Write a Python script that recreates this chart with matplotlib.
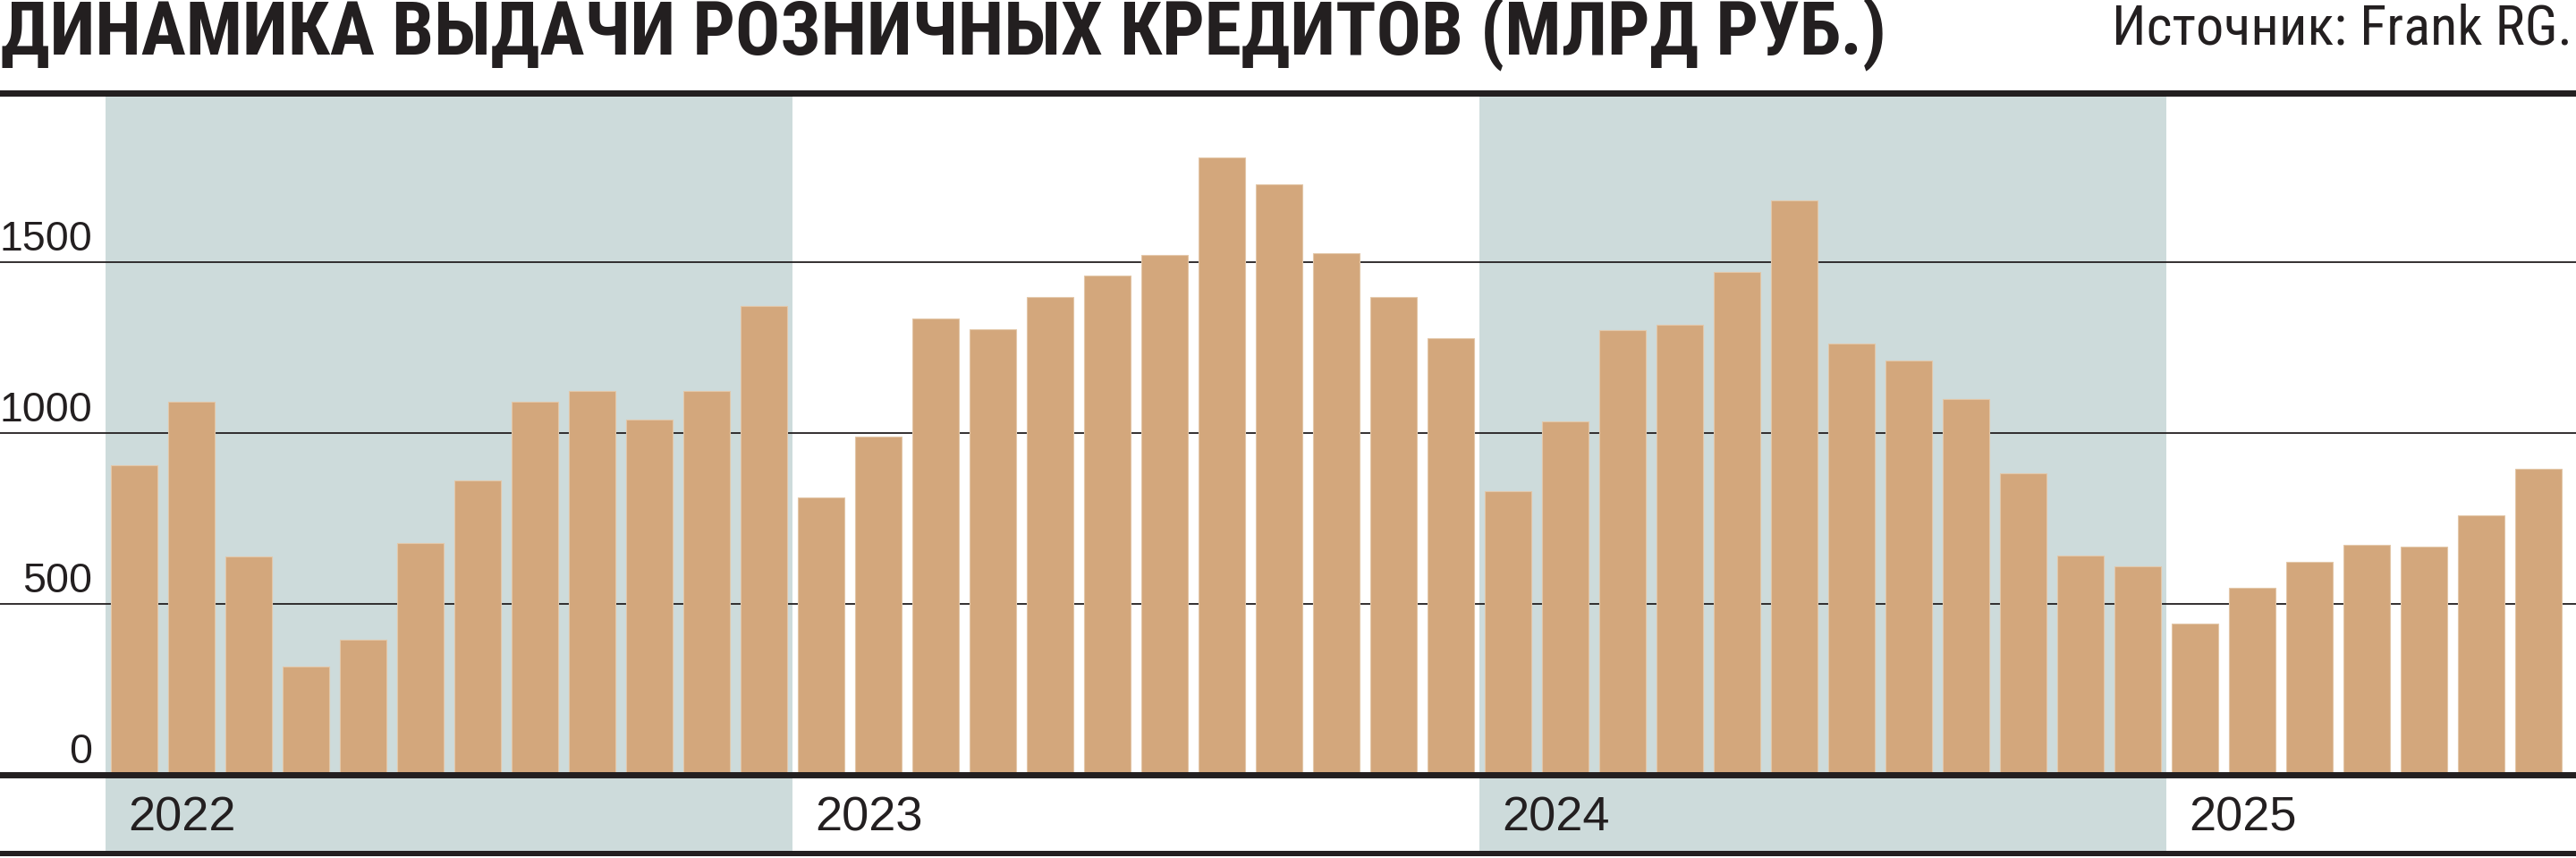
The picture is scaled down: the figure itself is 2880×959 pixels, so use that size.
import matplotlib
matplotlib.use("Agg")
import matplotlib.pyplot as plt
from matplotlib import font_manager as fm
from matplotlib.lines import Line2D

# ---------------- data ----------------
title = "ДИНАМИКА ВЫДАЧИ РОЗНИЧНЫХ КРЕДИТОВ (МЛРД РУБ.)"
source = "Источник: Frank RG."
years = ["2022", "2023", "2024", "2025"]
values_2022 = [906, 1092, 638, 316, 395, 677, 860, 1092, 1122, 1038, 1122, 1372]
values_2023 = [811, 989, 1334, 1304, 1398, 1460, 1522, 1806, 1727, 1525, 1399, 1278]
values_2024 = [829, 1033, 1300, 1316, 1471, 1681, 1263, 1211, 1099, 882, 642, 609]
values_2025 = [443, 546, 622, 674, 668, 758, 894]
yticks = [0, 500, 1000, 1500]
yearly = [values_2022, values_2023, values_2024, values_2025]

values = [v for ys in yearly for v in ys]

# ---------------- style ----------------
BLACK = "#231F20"
BAR = "#D3A77C"
SHADE = "#CDDBDB"


def _weight(f):
    w = f.weight
    if isinstance(w, str):
        return {"bold": 700, "normal": 400, "regular": 400, "medium": 500,
                "light": 300, "semibold": 600, "heavy": 800, "black": 900}.get(w, 400)
    return int(w)


def find_condensed(target_weight):
    best, best_score = None, None
    for f in fm.fontManager.ttflist:
        n = f.name.lower()
        p = f.fname.lower().split("/")[-1]
        if "cjk" in p or "mono" in p or "italic" in p or "oblique" in p:
            continue
        if f.style != "normal":
            continue
        cond = ("narrow" in n or "condensed" in n or "narrow" in p or "condensed" in p
                or f.stretch in ("condensed", "semi-condensed", "extra-condensed"))
        if not cond:
            continue
        if "liberation" in p:
            fam = 0
        elif "arial" in p:
            fam = 1
        elif "notosans-" in p and "semicondensed" not in p and "extracondensed" not in p:
            fam = 2
        elif "roboto" in p:
            fam = 3
        elif "dejavu" in p:
            fam = 4
        elif "notosans" in p:
            fam = 5
        else:
            fam = 6
        score = (abs(_weight(f) - target_weight), fam)
        if best_score is None or score < best_score:
            best, best_score = f, score
    if best is None:
        return fm.FontProperties(family="Liberation Sans",
                                 weight="bold" if target_weight >= 700 else "normal")
    return fm.FontProperties(fname=best.fname)


TITLE_FP = find_condensed(700)
SRC_FP = find_condensed(400)
REG = "Liberation Sans"

W, H, DPI = 2880, 959, 100
fig = plt.figure(figsize=(W / DPI, H / DPI), dpi=DPI)
fig.patch.set_facecolor("white")


def fy(px):
    return 1 - px / H


def fx(px):
    return px / W


ax_top_px, ax_bot_px = 107, 951
zero_px, ppu = 866, 0.382
x0_px, step_px = 150, 64

ax = fig.add_axes([0, fy(ax_bot_px), 1, (ax_bot_px - ax_top_px) / H])
ax.set_ylim((zero_px - ax_bot_px) / ppu, (zero_px - ax_top_px) / ppu)
ax.set_xlim((0 - x0_px) / step_px, (W - x0_px) / step_px)
ax.axis("off")

# shading of alternate years
start = 0
starts = []
for i, ys in enumerate(yearly):
    starts.append(start)
    if i % 2 == 0:
        ax.axvspan(start - 0.5, start + len(ys) - 0.5, color=SHADE, lw=0, zorder=0)
    start += len(ys)

# grid lines
for t in yticks[1:]:
    ax.axhline(t, color=BLACK, lw=1.3, zorder=1)

# bars
xs = list(range(len(values)))
ax.bar(xs, values, width=0.82, color=BAR, edgecolor="#E3C7A8", linewidth=0.8, zorder=2)

# zero axis
ax.axhline(0, color=BLACK, lw=5, zorder=3)

# y labels
xl = ax.get_xlim()
lab_x = xl[0] + fx(103) * (xl[1] - xl[0])
for t in yticks:
    ax.text(lab_x, t + 13 / ppu, f"{t}", ha="right", va="baseline",
            fontsize=33.5, family=REG, color=BLACK, zorder=4)

# year labels
for s, y in zip(starts, years):
    ax.text(s - 0.1, -128, y, ha="left", va="center", fontsize=39, family=REG,
            color=BLACK, zorder=4)

# rules
fig.add_artist(Line2D([0, 1], [fy(103.5)] * 2, lw=7 * 72 / DPI, color=BLACK,
                      transform=fig.transFigure))
fig.add_artist(Line2D([0, 1], [fy(954)] * 2, lw=6 * 72 / DPI, color=BLACK,
                      transform=fig.transFigure))

# title and source, fitted to widths
t1 = fig.text(fx(1), fy(61), title, ha="left", va="baseline",
              fontproperties=TITLE_FP, color=BLACK)
t1.set_fontsize(50)
t2 = fig.text(fx(2876), fy(50), source, ha="right", va="baseline",
              fontproperties=SRC_FP, color=BLACK)
t2.set_fontsize(40)
r = fig.canvas.get_renderer()
for t, target in ((t1, 2110), (t2, 515)):
    w = t.get_window_extent(r).width
    t.set_fontsize(t.get_fontsize() * target / w)

fig.savefig("out.png", dpi=DPI, facecolor="white")
